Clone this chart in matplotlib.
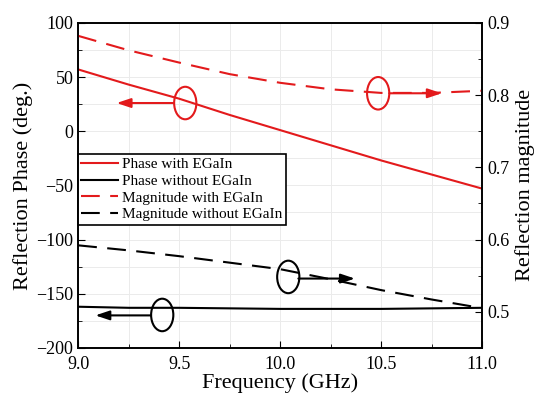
import numpy as np
import matplotlib.pyplot as plt
from matplotlib.patches import Ellipse
from matplotlib.ticker import MultipleLocator

plt.rcParams['font.family'] = ['Liberation Serif', 'DejaVu Serif']
plt.rcParams['mathtext.fontset'] = 'stix'

# frequenta (GHz)
freq = [9.0, 9.25, 9.5, 9.75, 10.0, 10.25, 10.5, 10.75, 11.0]
# faza (deg.)
phase_with = [57, 43, 30, 15, 1, -13, -27, -40, -53]
phase_without = [-162, -163, -163, -163.5, -164, -164, -164, -163.5, -163]
# magnitudine
mag_with = [0.882, 0.862, 0.845, 0.829, 0.817, 0.808, 0.803, 0.803, 0.806]
mag_without = [0.592, 0.585, 0.577, 0.568, 0.559, 0.545, 0.530, 0.517, 0.505]

red = '#e31a1c'

fig, ax = plt.subplots(figsize=(5.43, 3.94), dpi=100)
fig.subplots_adjust(left=0.144, right=0.888, top=0.942, bottom=0.117)
ax2 = ax.twinx()

l1, = ax.plot(freq, phase_with, color=red, lw=1.5, label='Phase with EGaIn')
l2, = ax.plot(freq, phase_without, color='black', lw=1.5, label='Phase without EGaIn')
l3, = ax2.plot(freq, mag_with, color=red, lw=1.5, dashes=(9, 5), label='Magnitude with EGaIn')
l4, = ax2.plot(freq, mag_without, color='black', lw=1.5, dashes=(9, 5), label='Magnitude without EGaIn')

ax.set_xlim(9.0, 11.0)
ax.set_ylim(-200, 100)
ax2.set_ylim(0.45, 0.9)

ax.xaxis.set_major_locator(MultipleLocator(0.5))
ax.xaxis.set_minor_locator(MultipleLocator(0.25))
ax.yaxis.set_major_locator(MultipleLocator(50))
ax.yaxis.set_minor_locator(MultipleLocator(25))
ax2.yaxis.set_major_locator(MultipleLocator(0.1))
ax2.yaxis.set_minor_locator(MultipleLocator(0.05))
ax.xaxis.set_major_formatter(plt.FormatStrFormatter('%.1f'))
ax2.yaxis.set_major_formatter(plt.FormatStrFormatter('%.1f'))

ax.grid(True, which='both', color='#ebebeb', lw=0.7)
ax.set_axisbelow(True)

ax.tick_params(which='both', direction='in', labelsize=13, top=False)
ax.tick_params(axis='x', pad=6)
ax.tick_params(which='major', length=5)
ax.tick_params(which='minor', length=3)
ax2.tick_params(which='both', direction='in', labelsize=13)
ax2.tick_params(which='major', length=5)
ax2.tick_params(which='minor', length=3)

ax.set_xlabel('Frequency (GHz)', fontsize=16, labelpad=0)
ax.set_ylabel('Reflection Phase (deg.)', fontsize=16, labelpad=2)
ax2.set_ylabel('Reflection magnitude', fontsize=16, labelpad=4)

for a in (ax, ax2):
    for s in a.spines.values():
        s.set_linewidth(1.2)

# elipse si sageti
ell = [(9.53, 26, red), (10.485, 35, red), (10.04, -134.5, 'black'), (9.416, -169.6, 'black')]
for x, y, c in ell:
    ax.add_patch(Ellipse((x, y), 0.11, 30, fill=False, edgecolor=c, lw=1.5, zorder=5))
arrows = [(9.47, 26, 9.19, 26, red), (10.54, 35, 10.80, 35, red),
          (10.09, -136, 10.37, -136, 'black'), (9.36, -170, 9.085, -170, 'black')]
for x0, y0, x1, y1, c in arrows:
    ax.annotate('', xy=(x1, y1), xytext=(x0, y0),
                arrowprops=dict(arrowstyle='-|>,head_length=0.6,head_width=0.2', color=c, lw=1.5,
                                mutation_scale=14, shrinkA=0, shrinkB=0), zorder=5)

leg = ax.legend(handles=[l1, l2, l3, l4], loc='upper left', bbox_to_anchor=(0.0, 0.595),
                fontsize=11, frameon=True, fancybox=False, framealpha=1,
                edgecolor='black', borderpad=0.2, labelspacing=0.2,
                handlelength=2.4, handletextpad=0.3, borderaxespad=0)
leg.get_frame().set_linewidth(1.2)
leg.set_zorder(10)

plt.savefig('out.png', dpi=100)
